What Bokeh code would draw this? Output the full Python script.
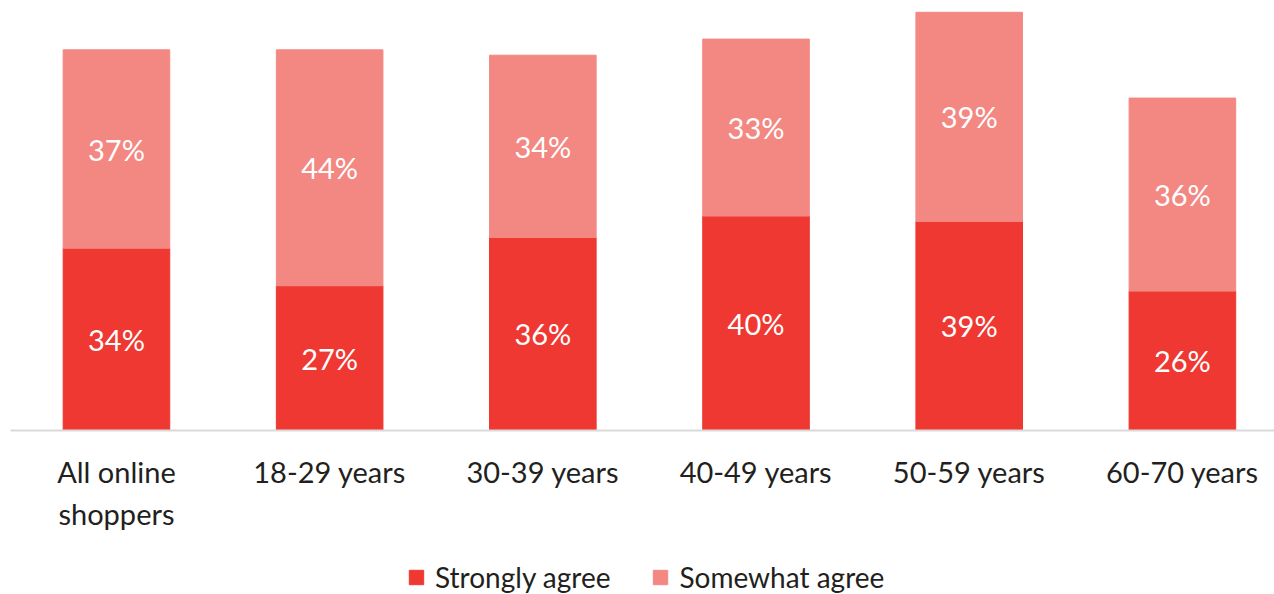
from bokeh.plotting import figure
from bokeh.layouts import column
from bokeh.models import ColumnDataSource, Range1d, FixedTicker, Legend, LegendItem, LabelSet
from bokeh.core.properties import value
from bokeh.embed import file_html
from bokeh.resources import INLINE

categories = ["All online\nshoppers", "18-29 years", "30-39 years", "40-49 years", "50-59 years", "60-70 years"]
strongly = [34, 27, 36, 40, 39, 26]
somewhat = [37, 44, 34, 33, 39, 36]
series_names = ["Strongly agree", "Somewhat agree"]

FONT = "Lato"
C_STRONG = "#EF3832"
C_SOME = "#F38883"
TXT = "#231F20"

xs = list(range(len(categories)))
src = ColumnDataSource(dict(
    x=xs,
    s_top=strongly,
    w_bot=strongly,
    w_top=[a + b for a, b in zip(strongly, somewhat)],
    s_mid=[a / 2 for a in strongly],
    w_mid=[a + b / 2 for a, b in zip(strongly, somewhat)],
    s_lab=[f"{v}%" for v in strongly],
    w_lab=[f"{v}%" for v in somewhat],
))

# main chart: frame 430 px tall, axis below
p = figure(width=1274, height=536, output_backend="svg", toolbar_location=None,
           x_range=Range1d(-0.497, 5.432), y_range=Range1d(0, 80.2),
           min_border_left=10, min_border_right=0, min_border_top=0, min_border_bottom=106)
p.outline_line_color = None
p.background_fill_color = "white"
p.border_fill_color = "white"
p.grid.visible = False
p.yaxis.visible = False

p.vbar(x="x", bottom=0, top="s_top", width=0.5, color=C_STRONG, source=src)
p.vbar(x="x", bottom="w_bot", top="w_top", width=0.5, color=C_SOME, source=src)

for ycol, tcol in (("s_mid", "s_lab"), ("w_mid", "w_lab")):
    p.add_layout(LabelSet(x="x", y=ycol, text=tcol, source=src, text_align="center",
                          text_baseline="middle", text_color="white",
                          text_font=value(FONT), text_font_size=value("29px")))

ax = p.xaxis[0]
ax.ticker = FixedTicker(ticks=xs)
ax.major_label_overrides = {i: c for i, c in enumerate(categories)}
ax.axis_line_color = "#D9D9D9"
ax.axis_line_width = 2
ax.major_tick_line_color = None
ax.minor_tick_line_color = None
ax.major_label_standoff = 17
ax.major_label_text_font = FONT
ax.major_label_text_font_size = "29px"
ax.major_label_text_color = TXT

# legend strip below (hidden proxy renderers supply the legend swatches)
q = figure(width=1274, height=58, output_backend="svg", toolbar_location=None,
           x_axis_type=None, y_axis_type=None,
           min_border_left=0, min_border_right=0, min_border_top=0, min_border_bottom=0)
q.outline_line_color = None
q.grid.visible = False
q.border_fill_color = "white"
lr1 = q.vbar(x="x", bottom=0, top="s_top", width=0.5, color=C_STRONG, source=src, visible=False)
lr2 = q.vbar(x="x", bottom="w_bot", top="w_top", width=0.5, color=C_SOME, source=src, visible=False)
legend = Legend(items=[LegendItem(label=series_names[0], renderers=[lr1]),
                       LegendItem(label=series_names[1], renderers=[lr2])],
                orientation="horizontal", location=(397, 0),
                glyph_width=18, glyph_height=18, label_standoff=10, spacing=41,
                label_text_font=FONT, label_text_font_size="28px", label_text_color=TXT,
                border_line_color=None, background_fill_alpha=0,
                padding=0, margin=0)
q.add_layout(legend, "center")

layout = column(p, q, spacing=0)
open("out.html", "w").write(file_html(layout, INLINE))
